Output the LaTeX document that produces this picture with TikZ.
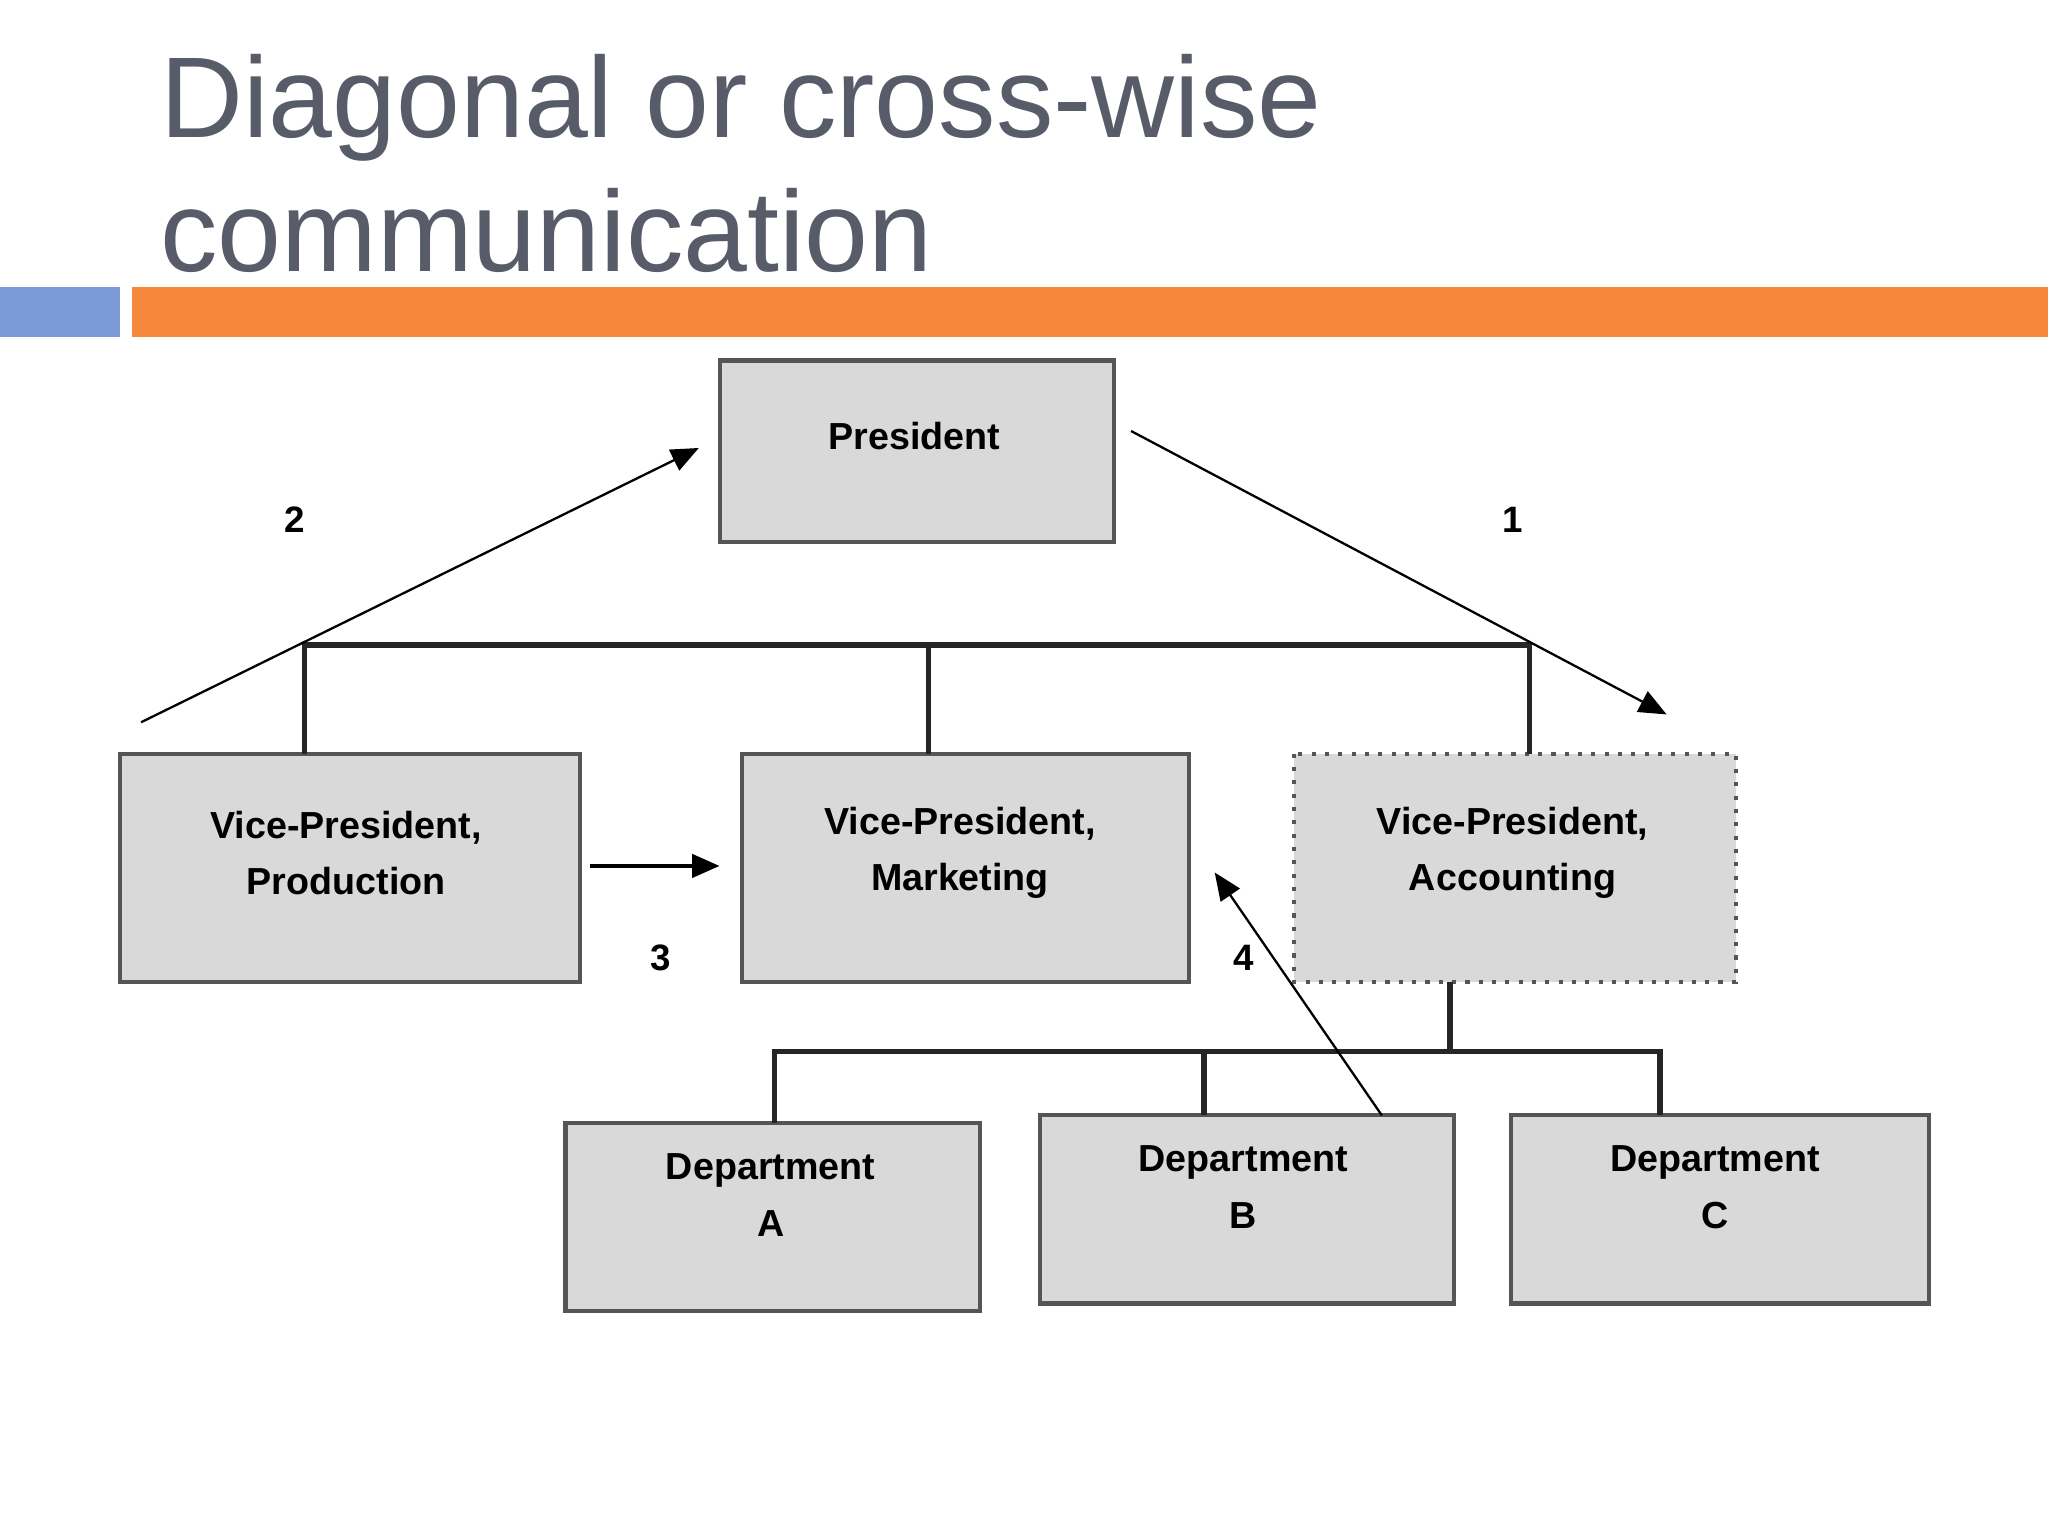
\documentclass[tikz,border=0pt]{standalone}
\usepackage{fontspec}
\setmainfont{Liberation Sans}
\usetikzlibrary{arrows.meta}
\definecolor{titlegray}{HTML}{575C68}
\definecolor{barblue}{HTML}{7B9BD6}
\definecolor{barorange}{HTML}{F5883A}
\definecolor{boxfill}{HTML}{D9D9D9}
\definecolor{boxline}{HTML}{555555}
\begin{document}
\begin{tikzpicture}[x=0.01cm,y=-0.01cm,
  box/.style={draw=boxline,line width=0.9pt,fill=boxfill},
  lbl/.style={font=\fontsize{8.2}{12.3}\selectfont\bfseries,align=center,text=black},
  num/.style={font=\fontsize{8}{10}\selectfont\bfseries},
  tree/.style={line width=1.2pt,black!85},
  ttl/.style={anchor=base west,text=titlegray,font=\fontsize{25}{29.3}\selectfont,inner sep=0},
  arr/.style={line width=0.5pt,-{Triangle[length=6pt,width=5pt]}}]
\useasboundingbox (0,0) rectangle (1568,1176);
\node[ttl] (title1) at (122,105) {Diagonal or cross-wise};
\node[ttl] (title2) at (122,208) {communication};
\fill[barblue] (0,220) rectangle (92,258);
\fill[barorange] (101,220) rectangle (1568,258);
% boxes
\draw[box] (551,276) rectangle (853,415);
\draw[box] (92,577) rectangle (444,752);
\draw[box] (568,577) rectangle (910,752);
\draw[box,dotted] (991,577) rectangle (1329,752);
\draw[box] (433,860) rectangle (750,1004);
\draw[box] (796,854) rectangle (1113,998);
\draw[box] (1157,854) rectangle (1477,998);
\node[lbl] (pres) at (700,334) {President};
\node[lbl] (vpp) at (265,653) {Vice-President,\\Production};
\node[lbl] (vpm) at (735,653) {Vice-President,\\Marketing};
\node[lbl] (vpa) at (1158,653) {Vice-President,\\Accounting};
\node[lbl] (da) at (590,915) {Department\\A};
\node[lbl] (db) at (952,909) {Department\\B};
\node[lbl] (dc) at (1313,909) {Department\\C};
% tree lines
\draw[tree] (233,577) -- (233,494) -- (1171,494) -- (1171,577);
\draw[tree] (711,494) -- (711,577);
\draw[tree] (1110,752) -- (1110,805);
\draw[tree] (593,860) -- (593,805) -- (1271,805) -- (1271,854);
\draw[tree] (922,805) -- (922,854);
% arrows
\coordinate (a2s) at (108,553); \coordinate (a2e) at (535,343);
\coordinate (a1s) at (866,330); \coordinate (a1e) at (1276,547);
\coordinate (a3s) at (452,663); \coordinate (a3e) at (551,663);
\coordinate (a4s) at (1058,854); \coordinate (a4e) at (930,668);
\draw[arr] (a2s) -- (a2e);
\draw[arr] (a1s) -- (a1e);
\draw[arr,line width=1pt] (a3s) -- (a3e);
\draw[arr] (a4s) -- (a4e);
\node[num] (n2) at (226,398) {2};
\node[num] (n1) at (1158,398) {1};
\node[num] (n3) at (506,733) {3};
\node[num] (n4) at (952,733) {4};
\end{tikzpicture}
\end{document}
